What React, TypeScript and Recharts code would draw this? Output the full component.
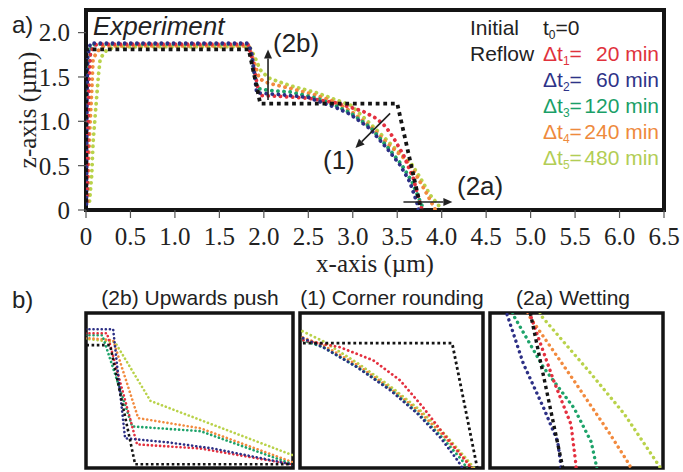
import React from 'react';
import { LineChart, Line, XAxis, YAxis, ReferenceLine, ReferenceArea } from 'recharts';

// ---------- Panel a) : profiles z(x) in µm ----------
const X_TICKS = [0, 0.5, 1, 1.5, 2, 2.5, 3, 3.5, 4, 4.5, 5, 5.5, 6, 6.5];
const Y_TICKS = [0, 0.5, 1, 1.5, 2];
const MAIN_XDOM = [0, 6.5];
const MAIN_YDOM = [0, 2.255];

const INITIAL_X = [0, 0, 1.83, 1.96, 3.5, 3.77];
const INITIAL_Z = [0, 1.81, 1.81, 1.2, 1.2, 0];

const T1_X = [0.01, 0.02, 0.03, 0.05, 0.1, 0.15, 1.82, 1.87, 1.95, 2.2, 2.5, 2.8, 2.97, 3.12, 3.27, 3.37, 3.46, 3.57, 3.68, 3.76, 3.78];
const T1_Z = [0.1, 0.8, 1.4, 1.78, 1.86, 1.87, 1.87, 1.7, 1.29, 1.28, 1.26, 1.21, 1.16, 1.11, 1.03, 0.94, 0.81, 0.62, 0.36, 0.06, 0];

const T2_X = [0.005, 0.01, 0.02, 0.05, 1.81, 1.86, 1.92, 2.2, 2.5, 2.63, 2.8, 2.97, 3.19, 3.38, 3.53, 3.64, 3.72, 3.74];
const T2_Z = [0, 1.2, 1.75, 1.88, 1.88, 1.8, 1.32, 1.3, 1.27, 1.22, 1.16, 1.08, 0.92, 0.7, 0.51, 0.32, 0.09, 0];

const T3_X = [0.01, 0.02, 0.03, 0.06, 0.1, 1.82, 1.86, 1.93, 2.05, 2.3, 2.6, 2.8, 2.98, 3.2, 3.39, 3.55, 3.67, 3.76, 3.8];
const T3_Z = [0.1, 1.0, 1.6, 1.85, 1.87, 1.87, 1.72, 1.37, 1.35, 1.33, 1.26, 1.18, 1.09, 0.93, 0.71, 0.51, 0.31, 0.09, 0];

const T4_X = [0.02, 0.026, 0.045, 0.064, 0.08, 0.14, 0.2, 1.83, 1.88, 1.95, 2.05, 2.3, 2.6, 2.8, 3.0, 3.2, 3.4, 3.56, 3.64, 3.75, 3.85, 3.93];
const T4_Z = [0.1, 0.51, 0.96, 1.33, 1.71, 1.8, 1.85, 1.85, 1.7, 1.48, 1.43, 1.37, 1.29, 1.22, 1.1, 0.94, 0.74, 0.6, 0.52, 0.33, 0.15, 0];

const T5_X = [0.04, 0.064, 0.08, 0.11, 0.14, 0.16, 0.23, 0.32, 1.84, 1.9, 1.96, 2.05, 2.3, 2.6, 2.98, 3.2, 3.4, 3.56, 3.66, 3.76, 3.87, 3.96, 4.0];
const T5_Z = [0.1, 0.39, 0.77, 1.15, 1.52, 1.71, 1.8, 1.84, 1.84, 1.72, 1.58, 1.49, 1.4, 1.32, 1.18, 0.97, 0.77, 0.61, 0.52, 0.36, 0.17, 0.06, 0];

// ---------- Panel b) insets (zoomed views, µm) ----------
// (2b) Upwards push
const PUSH_XDOM = [1.725, 2.8];
const PUSH_YDOM = [1.17, 1.99];
const PUSH_INITIAL_X = [1.7, 1.85, 1.98, 2.85];
const PUSH_INITIAL_Z = [1.82, 1.82, 1.19, 1.19];
const PUSH_T1_X = [1.7, 1.834, 1.99, 2.32, 2.79, 2.85];
const PUSH_T1_Z = [1.883, 1.883, 1.295, 1.273, 1.19, 1.17];
const PUSH_T2_X = [1.7, 1.866, 1.928, 2.147, 2.386, 2.79, 2.85];
const PUSH_T2_Z = [1.904, 1.904, 1.327, 1.306, 1.273, 1.19, 1.17];
const PUSH_T3_X = [1.7, 1.81, 1.965, 2.32, 2.79, 2.85];
const PUSH_T3_Z = [1.872, 1.872, 1.39, 1.365, 1.193, 1.17];
const PUSH_T4_X = [1.7, 1.866, 1.996, 2.32, 2.79, 2.85];
const PUSH_T4_Z = [1.86, 1.846, 1.434, 1.38, 1.204, 1.18];
const PUSH_T5_X = [1.7, 1.876, 2.06, 2.79, 2.85];
const PUSH_T5_Z = [1.856, 1.835, 1.525, 1.241, 1.22];

// (1) Corner rounding
const CORNER_XDOM = [2.73, 3.68];
const CORNER_YDOM = [0.57, 1.34];
const CORNER_INITIAL_X = [2.6, 3.52, 3.77];
const CORNER_INITIAL_Z = [1.19, 1.19, 0];
const CORNER_T1_X = [2.7, 2.746, 2.938, 3.11, 3.25, 3.37, 3.475, 3.6, 3.66];
const CORNER_T1_Z = [1.21, 1.205, 1.17, 1.105, 1.005, 0.87, 0.74, 0.595, 0.5];
const CORNER_T2_X = [2.7, 2.746, 2.85, 3.027, 3.2, 3.34, 3.46, 3.55, 3.6];
const CORNER_T2_Z = [1.225, 1.215, 1.17, 1.07, 0.955, 0.84, 0.72, 0.605, 0.53];
const CORNER_T3_X = [2.7, 2.85, 3.03, 3.2, 3.34, 3.46, 3.57, 3.62];
const CORNER_T3_Z = [1.22, 1.17, 1.07, 0.96, 0.845, 0.73, 0.61, 0.53];
const CORNER_T4_X = [2.7, 2.85, 3.03, 3.2, 3.35, 3.47, 3.58, 3.65];
const CORNER_T4_Z = [1.235, 1.18, 1.08, 0.965, 0.85, 0.735, 0.62, 0.54];
const CORNER_T5_X = [2.7, 2.85, 3.03, 3.2, 3.35, 3.48, 3.59, 3.66];
const CORNER_T5_Z = [1.27, 1.2, 1.09, 0.975, 0.86, 0.74, 0.62, 0.54];

// (2a) Wetting
const WET_XDOM = [3.53, 4.1];
const WET_YDOM = [0, 0.51];
const WET_INITIAL_X = [3.52, 3.77];
const WET_INITIAL_Z = [1.19, 0];
const WET_T1_X = [3.655, 3.663, 3.74, 3.797, 3.813, 3.815];
const WET_T1_Z = [0.53, 0.503, 0.287, 0.143, 0.013, -0.02];
const WET_T2_X = [3.575, 3.587, 3.64, 3.707, 3.753, 3.763, 3.765];
const WET_T2_Z = [0.54, 0.503, 0.343, 0.197, 0.087, 0.013, -0.02];
const WET_T3_X = [3.6, 3.607, 3.707, 3.807, 3.863, 3.88, 3.885];
const WET_T3_Z = [0.53, 0.503, 0.33, 0.197, 0.087, 0.01, -0.02];
const WET_T4_X = [3.65, 3.657, 3.807, 3.92, 3.99, 4.0];
const WET_T4_Z = [0.53, 0.503, 0.287, 0.12, 0.01, -0.02];
const WET_T5_X = [3.69, 3.697, 3.863, 3.973, 4.09, 4.1];
const WET_T5_Z = [0.53, 0.503, 0.31, 0.177, 0.003, -0.02];

// ---------- legend ----------
const LEGEND_TIMES = ['20', '60', '120', '240', '480'];

const C_BLACK = '#141414';
const C_RED = '#e4303f';
const C_NAVY = '#2c2f85';
const C_GREEN = '#1da36a';
const C_ORANGE = '#f28a3e';
const C_YG = '#b9d24a';
const SERIES_COLORS = [C_RED, C_NAVY, C_GREEN, C_ORANGE, C_YG];
const TEXT_COLORS = ['#e0323c', '#2e3388', '#1a9f68', '#ee8a3d', '#b2cd55'];

const pts = (xs: number[], zs: number[]) => xs.map((x, i) => ({ x, z: zs[i] }));

type SeriesSet = { initial: any[]; t: any[][] };

const MAIN: SeriesSet = {
  initial: pts(INITIAL_X, INITIAL_Z),
  t: [pts(T1_X, T1_Z), pts(T2_X, T2_Z), pts(T3_X, T3_Z), pts(T4_X, T4_Z), pts(T5_X, T5_Z)],
};
const PUSH: SeriesSet = {
  initial: pts(PUSH_INITIAL_X, PUSH_INITIAL_Z),
  t: [pts(PUSH_T1_X, PUSH_T1_Z), pts(PUSH_T2_X, PUSH_T2_Z), pts(PUSH_T3_X, PUSH_T3_Z), pts(PUSH_T4_X, PUSH_T4_Z), pts(PUSH_T5_X, PUSH_T5_Z)],
};
const CORNER: SeriesSet = {
  initial: pts(CORNER_INITIAL_X, CORNER_INITIAL_Z),
  t: [pts(CORNER_T1_X, CORNER_T1_Z), pts(CORNER_T2_X, CORNER_T2_Z), pts(CORNER_T3_X, CORNER_T3_Z), pts(CORNER_T4_X, CORNER_T4_Z), pts(CORNER_T5_X, CORNER_T5_Z)],
};
const WET: SeriesSet = {
  initial: pts(WET_INITIAL_X, WET_INITIAL_Z),
  t: [pts(WET_T1_X, WET_T1_Z), pts(WET_T2_X, WET_T2_Z), pts(WET_T3_X, WET_T3_Z), pts(WET_T4_X, WET_T4_Z), pts(WET_T5_X, WET_T5_Z)],
};

// draw order: yellow-green, orange, green, red, navy, black
const ORDER = [4, 3, 2, 0, 1];

const fmt = (v: number) => (v === 0 ? '0' : v.toFixed(1));
const SERIF = '"Liberation Serif", "Times New Roman", serif';
const SANS = '"Liberation Sans", Arial, sans-serif';

const arrowShape = (p: any) => {
  const { x1, y1, x2, y2 } = p;
  const ang = Math.atan2(y2 - y1, x2 - x1);
  const L = 9;
  const W = 4;
  const bx = x2 - L * Math.cos(ang);
  const by = y2 - L * Math.sin(ang);
  const px = -Math.sin(ang) * W;
  const py = Math.cos(ang) * W;
  return (
    <g>
      <line x1={x1} y1={y1} x2={bx} y2={by} stroke="#222" strokeWidth={1.6} />
      <polygon points={`${x2},${y2} ${bx + px},${by + py} ${bx - px},${by - py}`} fill="#222" />
    </g>
  );
};

const ZLabel = (props: any) => {
  const vb = props.viewBox || {};
  const cy = (vb.y || 10) + (vb.height || 200) / 2;
  const cx = 36;
  return (
    <text x={cx} y={cy} transform={`rotate(-90 ${cx} ${cy})`} textAnchor="middle" fontFamily={SERIF} fontSize={25} fill="#222">
      z-axis (µm)
    </text>
  );
};

function MainChart() {
  const lineProps = { dataKey: 'z', isAnimationActive: false, dot: false, activeDot: false, type: 'linear' as const };
  return (
    <LineChart width={683} height={290} margin={{ top: 10, right: 19, left: 0, bottom: 0 }}>
      <XAxis
        dataKey="x"
        type="number"
        domain={MAIN_XDOM}
        allowDataOverflow
        ticks={X_TICKS}
        interval={0}
        tickFormatter={fmt}
        tickSize={8}
        tickMargin={9}
        height={80}
        axisLine={false}
        tickLine={{ stroke: '#555', strokeWidth: 1.2 }}
        tick={{ fontFamily: SERIF, fontSize: 25, fill: '#222' }}
        label={{ value: 'x-axis (µm)', position: 'insideBottom', offset: 18, style: { fontFamily: SERIF, fontSize: 25, fill: '#222' } }}
      />
      <YAxis
        type="number"
        domain={MAIN_YDOM}
        allowDataOverflow
        ticks={Y_TICKS}
        interval={0}
        tickFormatter={fmt}
        tickSize={8}
        tickMargin={8}
        width={86}
        axisLine={false}
        tickLine={{ stroke: '#555', strokeWidth: 1.2 }}
        tick={{ fontFamily: SERIF, fontSize: 25, fill: '#222' }}
        label={<ZLabel />}
      />
      {ORDER.map((i) => (
        <Line
          key={i}
          {...lineProps}
          data={MAIN.t[i]}
          stroke={SERIES_COLORS[i]}
          strokeWidth={3.8}
          strokeDasharray="0.1 6"
          strokeLinecap="round"
        />
      ))}
      <Line {...lineProps} data={MAIN.initial} stroke={C_BLACK} strokeWidth={3.8} strokeDasharray="3.8 3.8" />
      <ReferenceArea x1={MAIN_XDOM[0]} x2={MAIN_XDOM[1]} y1={MAIN_YDOM[0]} y2={MAIN_YDOM[1]} ifOverflow="visible" fill="none" fillOpacity={0} stroke={C_BLACK} strokeWidth={4} />
      <ReferenceLine segment={[{ x: 2.047, y: 1.24 }, { x: 2.047, y: 1.81 }]} ifOverflow="visible" shape={arrowShape} />
      <ReferenceLine segment={[{ x: 3.42, y: 1.09 }, { x: 3.03, y: 0.7 }]} ifOverflow="visible" shape={arrowShape} />
      <ReferenceLine segment={[{ x: 3.57, y: 0.09 }, { x: 4.12, y: 0.09 }]} ifOverflow="visible" shape={arrowShape} />
    </LineChart>
  );
}

function Inset({ left, width, set, xDom, yDom, dotW, gap }: { left: number; width: number; set: SeriesSet; xDom: number[]; yDom: number[]; dotW: number; gap: number }) {
  const lineProps = { dataKey: 'z', isAnimationActive: false, dot: false, activeDot: false, type: 'linear' as const };
  return (
    <div style={{ position: 'absolute', left: left - 3, top: 310 }}>
      <LineChart width={width + 6} height={161} margin={{ top: 3, right: 3, left: 3, bottom: 3 }}>
        <XAxis dataKey="x" type="number" domain={xDom} allowDataOverflow hide />
        <YAxis type="number" domain={yDom} allowDataOverflow hide />
        {ORDER.map((i) => (
          <Line key={i} {...lineProps} data={set.t[i]} stroke={SERIES_COLORS[i]} strokeWidth={dotW} strokeDasharray={`0.1 ${gap}`} strokeLinecap="round" />
        ))}
        <Line {...lineProps} data={set.initial} stroke={C_BLACK} strokeWidth={dotW} strokeDasharray={`${dotW} ${dotW}`} />
        <ReferenceArea x1={xDom[0]} x2={xDom[1]} y1={yDom[0]} y2={yDom[1]} ifOverflow="visible" fill="none" fillOpacity={0} stroke={C_BLACK} strokeWidth={3.5} />
      </LineChart>
    </div>
  );
}

function Overlay() {
  const rowY = [61, 87, 113, 139, 165];
  return (
    <svg width={683} height={472} style={{ position: 'absolute', left: 0, top: 0, pointerEvents: 'none' }}>
      <g fontFamily={SANS} fill="#222">
        <text x={12} y={33} fontSize={24}>a)</text>
        <text x={12} y={308} fontSize={24}>b)</text>
        <text x={93} y={35} fontSize={26} fontStyle="italic">Experiment</text>
        <text x={273} y={52} fontSize={26}>(2b)</text>
        <text x={323} y={169} fontSize={26}>(1)</text>
        <text x={457} y={195} fontSize={26}>(2a)</text>
        <text x={190} y={305} fontSize={21} textAnchor="middle">(2b) Upwards push</text>
        <text x={392} y={305} fontSize={21} textAnchor="middle">(1) Corner rounding</text>
        <text x={573} y={305} fontSize={21} textAnchor="middle">(2a) Wetting</text>
        <text x={470} y={35} fontSize={21}>Initial</text>
        <text x={543} y={35} fontSize={21}>
          t<tspan fontSize={12} dy={4}>0</tspan>
          <tspan dy={-4}>=0</tspan>
        </text>
        <text x={470} y={61} fontSize={21}>Reflow</text>
        {LEGEND_TIMES.map((t, i) => (
          <g key={t} fill={TEXT_COLORS[i]} fontSize={21}>
            <text x={543} y={rowY[i]}>
              Δt<tspan fontSize={12} dy={4}>{i + 1}</tspan>
              <tspan dy={-4}>=</tspan>
            </text>
            <text x={659} y={rowY[i]} textAnchor="end">{`${t} min`}</text>
          </g>
        ))}
      </g>
    </svg>
  );
}

export default function App() {
  return (
    <div style={{ position: 'absolute', left: 0, top: 0, width: 683, height: 472, background: '#fff', overflow: 'hidden' }}>
      <div style={{ position: 'absolute', left: 0, top: 0 }}>
        <MainChart />
      </div>
      <Inset left={86} width={207} set={PUSH} xDom={PUSH_XDOM} yDom={PUSH_YDOM} dotW={2.6} gap={4} />
      <Inset left={300} width={183} set={CORNER} xDom={CORNER_XDOM} yDom={CORNER_YDOM} dotW={2.8} gap={4.5} />
      <Inset left={490} width={173} set={WET} xDom={WET_XDOM} yDom={WET_YDOM} dotW={3.4} gap={5.5} />
      <Overlay />
    </div>
  );
}
